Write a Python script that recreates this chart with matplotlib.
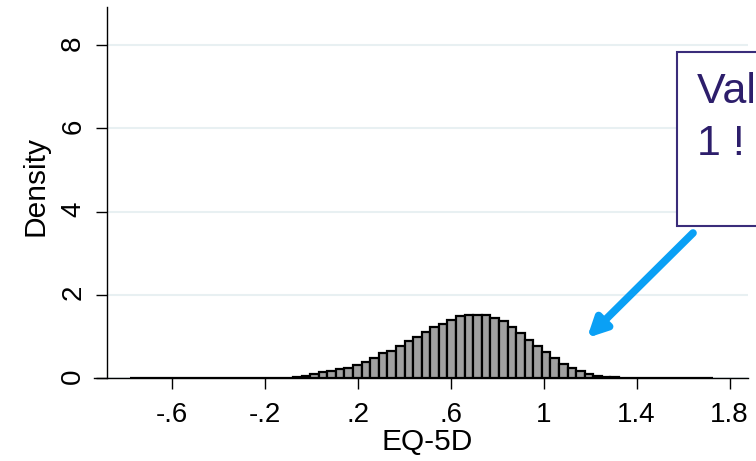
import matplotlib
matplotlib.use('Agg')
import matplotlib.pyplot as plt
from matplotlib.patches import Rectangle
import numpy as np

plt.rcParams['font.family'] = ['Liberation Sans', 'DejaVu Sans']

# histogram of EQ-5D scores: first bin edge, bin width and density per bin
bin_start = -0.779
bin_width = 0.0369
density = [0.01] * 19 + [0.015,
           0.05, 0.10, 0.14, 0.17, 0.21, 0.25, 0.31, 0.39, 0.47, 0.59,
           0.66, 0.77, 0.88, 0.99, 1.11, 1.22, 1.29, 1.40, 1.48, 1.52,
           1.52, 1.51, 1.44, 1.37, 1.22, 1.07, 0.91, 0.76, 0.62, 0.47,
           0.34, 0.23, 0.16, 0.10, 0.05,
           0.02, 0.015] + [0.01] * 11

xtick_values = [-0.6, -0.2, 0.2, 0.6, 1.0, 1.4, 1.8]
xtick_labels = ['-.6', '-.2', '.2', '.6', '1', '1.4', '1.8']
ytick_values = [0, 2, 4, 6, 8]
note_lines = ['Values above', '1 !']

left_edges = bin_start + bin_width * np.arange(len(density))

fig = plt.figure(figsize=(7.56, 4.61), dpi=100)
ax = fig.add_axes([107 / 756, 1 - 378 / 461, 641 / 756, 371 / 461])

ax.bar(left_edges, density, width=bin_width, align='edge',
       color='#a0a0a0', edgecolor='black', linewidth=1.6, zorder=3)

ax.set_xlim(-0.878, 1.879)
ax.set_ylim(0, 8.92)

ax.set_xticks(xtick_values)
ax.set_xticklabels(xtick_labels)
ax.set_yticks(ytick_values)
ax.set_yticklabels([str(v) for v in ytick_values])

ax.grid(axis='y', color='#e8f0f2', linewidth=1.5, zorder=0)
ax.set_axisbelow(True)

for side in ['top', 'right']:
    ax.spines[side].set_visible(False)
ax.spines['left'].set_linewidth(1.0)
ax.spines['bottom'].set_linewidth(1.0)
ax.spines['bottom'].set_bounds(-0.934, 1.879)

ax.tick_params(axis='both', length=8, width=1.0, labelsize=20, color='black')
ax.tick_params(axis='x', pad=9)
ax.tick_params(axis='y', labelrotation=90, pad=7)

ax.set_xlabel('EQ-5D', fontsize=21.5, labelpad=0)
ax.set_ylabel('Density', fontsize=21.5)
ax.yaxis.set_label_coords(-0.09, 0.517)

# callout box and arrow pointing at the upper tail
box = Rectangle((677 / 756, 1 - 226 / 461), 0.3, 174 / 461,
                transform=fig.transFigure, facecolor='white',
                edgecolor='#3a2c7a', linewidth=1.5, zorder=5)
fig.patches.append(box)
fig.text(697 / 756, 1 - 103 / 461, note_lines[0], fontsize=31,
         color='#2d1e6b', va='baseline', ha='left', zorder=6)
fig.text(697 / 756, 1 - 155 / 461, note_lines[1], fontsize=31,
         color='#2d1e6b', va='baseline', ha='left', zorder=6)

ax.annotate('', xy=(587, 123), xycoords='figure pixels',
            xytext=(693, 228), textcoords='figure pixels',
            arrowprops=dict(arrowstyle='-|>', color='#0aa0f5', lw=5.5,
                            mutation_scale=28, shrinkA=0, shrinkB=0),
            annotation_clip=False)

fig.savefig('out.png', dpi=100)
